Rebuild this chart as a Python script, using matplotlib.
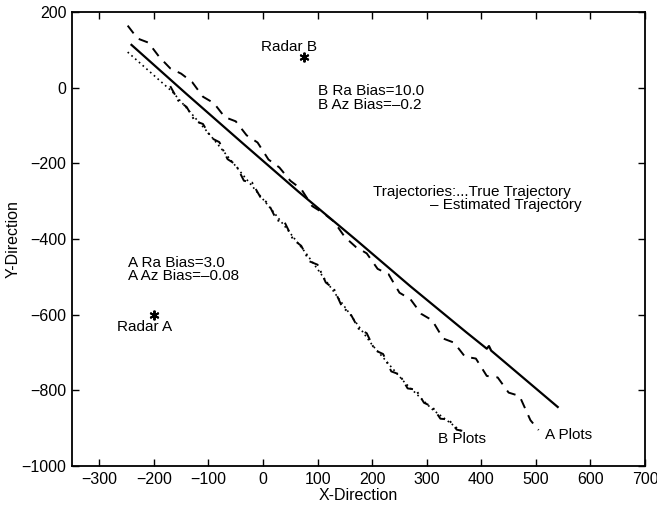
import matplotlib
matplotlib.use("Agg")
import matplotlib.pyplot as plt

plt.rcParams["font.family"] = ["Liberation Sans", "DejaVu Sans"]
plt.rcParams["axes.unicode_minus"] = True

# Estimated trajectory (solid)
est_x = [-241, -140, -38, 65, 171, 270, 372, 410, 414, 418, 540]
est_y = [113, -17, -146, -275, -403, -525, -646, -690, -683, -695, -844]

# True trajectory (dotted)
true_x = [-248, -166, -100, -40, 20, 80, 140, 200, 260, 310, 365]
true_y = [94, -11, -120, -225, -330, -440, -560, -680, -780, -850, -910]

# Radar A measurements (dashed)
a_x = [-248, -230, -210, -190, -170, -150, -130, -110, -90, -70, -50, -30, -10,
       10, 30, 50, 70, 90, 110, 130, 150, 170, 190, 210, 230, 250, 270, 290,
       310, 330, 350, 370, 390, 410, 430, 450, 470, 490, 505]
a_y = [164, 130, 119, 81, 51, 37, 15, -24, -41, -78, -89, -126, -145,
       -190, -211, -246, -268, -313, -331, -354, -395, -421, -438, -479, -493,
       -542, -559, -598, -615, -663, -674, -711, -716, -762, -766, -806, -815,
       -879, -905]

# Radar B measurements (dash-dot)
b_x = [-170, -155, -140, -125, -110, -95, -80, -65, -50, -35, -20, -5, 10, 25,
       40, 55, 70, 85, 100, 115, 130, 145, 160, 175, 190, 205, 220, 235, 250,
       265, 280, 295, 310, 325, 340, 355, 365]
b_y = [4, -35, -51, -88, -96, -133, -144, -189, -203, -246, -251, -289, -307,
       -350, -357, -401, -418, -459, -468, -515, -532, -580, -597, -637, -649,
       -694, -704, -750, -758, -795, -798, -833, -843, -875, -877, -904, -907]

# Radar sites
radar_names = ["Radar A", "Radar B"]
radar_x = [-200, 75]
radar_y = [-600, 80]

x_ticks = [-300, -200, -100, 0, 100, 200, 300, 400, 500, 600, 700]
y_ticks = [-1000, -800, -600, -400, -200, 0, 200]

fig = plt.figure(figsize=(6.57, 5.08), dpi=100)
ax = fig.add_axes([0.1096, 0.0827, 0.8722, 0.8937])

ax.plot(true_x, true_y, color="black", linestyle=(0, (1, 2)), linewidth=1.2)
ax.plot(b_x, b_y, color="black", linestyle=(0, (5, 3, 1, 3)), linewidth=1.4)
ax.plot(a_x, a_y, color="black", linestyle=(0, (5, 4)), linewidth=1.4)
ax.plot(est_x, est_y, color="black", linestyle="-", linewidth=1.6)

ax.plot(radar_x, radar_y, linestyle="none", marker=(6, 2, 0), markersize=7,
        color="black", markeredgewidth=1.4)

fs = 11
ax.text(-268, -633, radar_names[0], fontsize=fs, va="center", ha="left")
ax.text(-4, 107, radar_names[1], fontsize=fs, va="center", ha="left")
ax.text(-247, -463, "A Ra Bias=3.0", fontsize=fs, va="center", ha="left")
ax.text(-247, -498, "A Az Bias=\u20130.08", fontsize=fs, va="center", ha="left")
ax.text(100, -10, "B Ra Bias=10.0", fontsize=fs, va="center", ha="left")
ax.text(100, -45, "B Az Bias=\u20130.2", fontsize=fs, va="center", ha="left")
ax.text(202, -275, "Trajectories:...True Trajectory", fontsize=fs,
        va="center", ha="left")
ax.text(306, -310, "\u2013 Estimated Trajectory", fontsize=fs,
        va="center", ha="left")
ax.text(516, -918, "A Plots", fontsize=fs, va="center", ha="left")
ax.text(321, -928, "B Plots", fontsize=fs, va="center", ha="left")

ax.set_xlim(-350, 700)
ax.set_ylim(-1000, 200)
ax.set_xticks(x_ticks)
ax.set_yticks(y_ticks)
ax.tick_params(direction="in", length=5, width=1, top=True, right=True,
               labelsize=11.5, pad=4)
for s in ax.spines.values():
    s.set_linewidth(1.3)

ax.set_xlabel("X-Direction", fontsize=11.5, labelpad=1)
ax.set_ylabel("Y-Direction", fontsize=11.5)
ax.yaxis.set_label_coords(-0.089, 0.5)

fig.savefig("out.png", dpi=100)
